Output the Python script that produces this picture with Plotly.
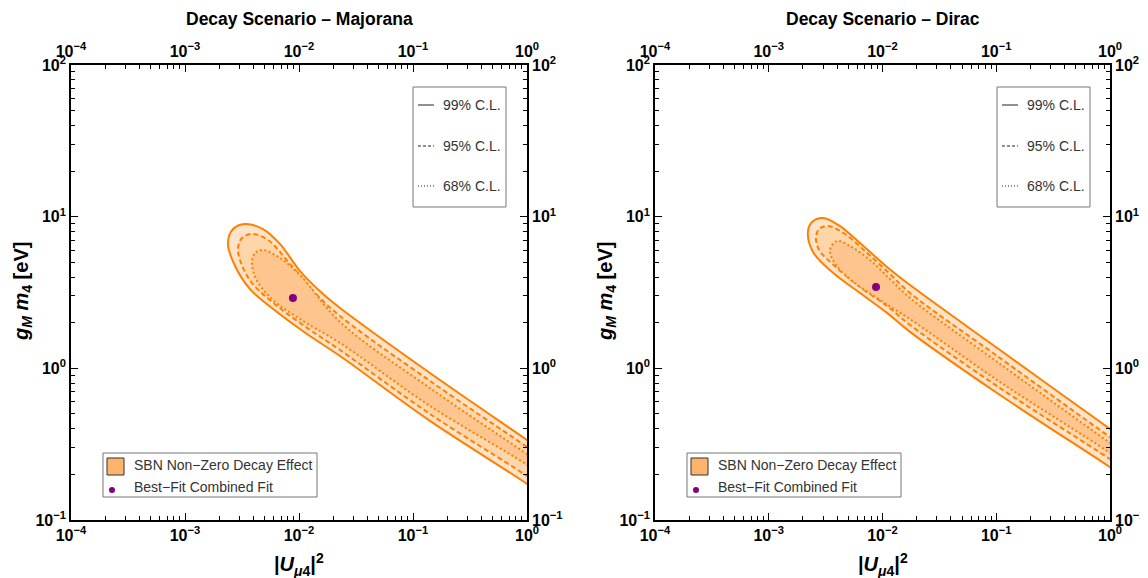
import plotly.graph_objects as go

# The page body has an 8px margin, so the figure is drawn 8px in from the window corner.
WIN_W, WIN_H, BODY = 1148, 578, 8
W, H = WIN_W - BODY, WIN_H - BODY

# ---------------- data ----------------
# Majorana panel, closed contours (|U_mu4|^2, g_M m_4 [eV]); path runs lower edge -> tip -> upper edge
maj99_x = [2.0, 1.0, 0.1409, 0.02291, 0.01175, 0.00641, 0.00372, 0.00275, 0.00238, 0.00264,
           0.00336, 0.00483, 0.00681, 0.01021, 0.01626, 0.02291, 0.1409, 1.0, 2.0]
maj99_y = [0.119, 0.173, 0.450, 1.205, 1.683, 2.35, 3.33, 4.73, 6.61, 8.29,
           8.95, 8.29, 6.61, 4.38, 3.09, 2.50, 0.931, 0.337, 0.235]

maj95_x = [2.0, 1.0, 0.1409, 0.02291, 0.01175, 0.00641, 0.00387, 0.00310, 0.00292, 0.00316,
           0.00387, 0.00535, 0.00834, 0.01439, 0.02291, 0.1409, 1.0, 2.0]
maj95_y = [0.135, 0.195, 0.500, 1.32, 1.85, 2.58, 3.65, 4.95, 6.21, 7.23,
           7.69, 7.02, 4.88, 3.05, 2.21, 0.826, 0.303, 0.211]

maj68_x = [2.0, 1.0, 0.1409, 0.02291, 0.01021, 0.00579, 0.00420, 0.00387, 0.00411, 0.00483,
           0.00681, 0.01021, 0.02291, 0.1409, 1.0, 2.0]
maj68_y = [0.160, 0.231, 0.565, 1.47, 2.11, 2.86, 3.88, 4.95, 5.76, 6.03,
           5.34, 4.12, 2.02, 0.741, 0.272, 0.190]

# Dirac panel
dir99_x = [2.0, 1.0, 0.1079, 0.01746, 0.01096, 0.00634, 0.00367, 0.00245, 0.00221, 0.00240,
           0.00300, 0.00423, 0.00634, 0.01096, 0.01746, 0.1079, 1.0, 2.0]
dir99_y = [0.157, 0.223, 0.667, 1.74, 2.32, 3.14, 4.26, 5.85, 7.92, 9.22,
           9.80, 8.67, 6.70, 4.66, 3.54, 1.32, 0.398, 0.274]

dir95_x = [2.0, 1.0, 0.1079, 0.01746, 0.01096, 0.00634, 0.00390, 0.00277, 0.00260, 0.00277,
           0.00332, 0.00468, 0.00716, 0.01164, 0.01746, 0.1079, 1.0, 2.0]
dir95_y = [0.177, 0.252, 0.741, 1.93, 2.58, 3.44, 4.66, 6.03, 7.34, 8.29,
           8.67, 7.69, 5.85, 4.19, 3.14, 1.17, 0.352, 0.244]

dir68_x = [2.0, 1.0, 0.1079, 0.01746, 0.00951, 0.00573, 0.00390, 0.00345, 0.00398, 0.00518,
           0.00776, 0.01164, 0.01746, 0.1079, 1.0, 2.0]
dir68_y = [0.193, 0.277, 0.813, 2.11, 2.82, 3.65, 4.80, 6.03, 6.91, 6.41,
           5.18, 3.88, 2.91, 1.07, 0.322, 0.223]

best_maj_x, best_maj_y = [0.00885], [2.91]
best_dir_x, best_dir_y = [0.00877], [3.44]

titles = ["Decay Scenario – Majorana", "Decay Scenario – Dirac"]
x_tick_vals = [1e-4, 1e-3, 1e-2, 1e-1, 1]
x_tick_text = ["10<sup>−4</sup>", "10<sup>−3</sup>", "10<sup>−2</sup>", "10<sup>−1</sup>", "10<sup>0</sup>"]
y_tick_vals = [0.1, 1, 10, 100]
y_tick_text = ["10<sup>−1</sup>", "10<sup>0</sup>", "10<sup>1</sup>", "10<sup>2</sup>"]
cl_labels = ["99% C.L.", "95% C.L.", "68% C.L."]
legend_labels = ["SBN Non−Zero Decay Effect", "Best−Fit Combined Fit"]

x_minor = [k * 10.0 ** d for d in range(-4, 0) for k in range(2, 10)]
y_minor = [k * 10.0 ** d for d in range(-1, 2) for k in range(2, 10)]

# ---------------- styling ----------------
ORANGE = "rgb(255,128,0)"
FILL99, FILL95, FILL68 = "#FFE3C8", "#FFD5AA", "#FFC58E"
PURPLE = "#800080"
FONT = "Liberation Sans"
TOP, BOT = 65, 520   # window pixel rows of the frame

panels = [
    dict(x0=71, x1=527, xa="x", ya="y", xa2="x2", ya2="y2",
         c=[(maj99_x, maj99_y), (maj95_x, maj95_y), (maj68_x, maj68_y)],
         b=(best_maj_x, best_maj_y)),
    dict(x0=655, x1=1110, xa="x3", ya="y3", xa2="x4", ya2="y4",
         c=[(dir99_x, dir99_y), (dir95_x, dir95_y), (dir68_x, dir68_y)],
         b=(best_dir_x, best_dir_y)),
]

def px(x):
    return (x - BODY) / W

def py(y):
    return 1 - (y - BODY) / H

fig = go.Figure()
shapes, annots = [], []

axis_common = dict(type="log", showline=True, linecolor="black", linewidth=1.6, automargin=False,
                   ticks="inside", ticklen=7, tickwidth=1, tickcolor="black",
                   showgrid=False, zeroline=False, tickmode="array",
                   tickfont=dict(family=FONT, size=16, color="black", weight="bold"))

layout_axes = {}
styles = [("solid", FILL99), ("5px,3px", FILL95), ("2px,2.5px", FILL68)]
for i, p in enumerate(panels):
    xd = [px(p["x0"]), px(p["x1"])]
    yd = [py(BOT), py(TOP)]
    for (cx, cy), (dash, fc) in zip(p["c"], styles):
        fig.add_trace(go.Scatter(x=cx, y=cy, mode="lines", fill="toself", fillcolor=fc,
                                 line=dict(color=ORANGE, width=2, dash=dash, shape="spline", smoothing=1),
                                 xaxis=p["xa"], yaxis=p["ya"], hoverinfo="skip", showlegend=False))
    fig.add_trace(go.Scatter(x=p["b"][0], y=p["b"][1], mode="markers",
                             marker=dict(color=PURPLE, size=8),
                             xaxis=p["xa"], yaxis=p["ya"], hoverinfo="skip", showlegend=False))
    fig.add_trace(go.Scatter(x=[], y=[], xaxis=p["xa2"], yaxis=p["ya2"], showlegend=False))

    xk = lambda a: "xaxis" + a[1:] if a != "x" else "xaxis"
    yk = lambda a: "yaxis" + a[1:] if a != "y" else "yaxis"
    minor_x = dict(ticks="inside", ticklen=4, tickcolor="black", tickwidth=1, tickmode="array", tickvals=x_minor)
    minor_y = dict(ticks="inside", ticklen=4, tickcolor="black", tickwidth=1, tickmode="array", tickvals=y_minor)
    layout_axes[xk(p["xa"])] = dict(axis_common, domain=xd, range=[-4, 0], anchor=p["ya"],
                                    tickvals=x_tick_vals, ticktext=x_tick_text, minor=minor_x)
    layout_axes[xk(p["xa2"])] = dict(axis_common, range=[-4, 0], overlaying=p["xa"], side="top",
                                     anchor=p["ya"], tickvals=x_tick_vals, ticktext=x_tick_text, minor=minor_x)
    layout_axes[yk(p["ya"])] = dict(axis_common, domain=yd, range=[-1, 2], anchor=p["xa"],
                                    tickvals=y_tick_vals, ticktext=y_tick_text, minor=minor_y)
    layout_axes[yk(p["ya2"])] = dict(axis_common, range=[-1, 2], overlaying=p["ya"], side="right",
                                     anchor=p["xa"], tickvals=y_tick_vals, ticktext=y_tick_text, minor=minor_y)

    off = p["x0"] - 71
    cx_mid = (p["x0"] + p["x1"]) / 2
    # title
    annots.append(dict(x=px(cx_mid), y=py(19), xref="paper", yref="paper", showarrow=False,
                       text="<b>" + titles[i] + "</b>", font=dict(family=FONT, size=17.5, color="black"),
                       xanchor="center", yanchor="middle"))
    # axis titles
    annots.append(dict(x=px(cx_mid), y=py(564), xref="paper", yref="paper", showarrow=False,
                       text="<b>|<i>U</i><sub><i>μ</i>4</sub>|<sup>2</sup></b>",
                       font=dict(family=FONT, size=20, color="black"), xanchor="center", yanchor="middle"))
    annots.append(dict(x=px(22 + off), y=py(292), xref="paper", yref="paper", showarrow=False,
                       text="<b><i>g</i><sub><i>M</i></sub> <i>m</i><sub>4</sub> [eV]</b>", textangle=-90,
                       font=dict(family=FONT, size=20, color="black"), xanchor="center", yanchor="middle"))
    # top-right C.L. legend
    shapes.append(dict(type="rect", xref="paper", yref="paper", x0=px(413 + off), x1=px(506 + off),
                       y0=py(87), y1=py(207), line=dict(color="#777", width=1), fillcolor="white"))
    for yy, lab, dash in zip([105, 146, 186], cl_labels, ["solid", "3px,2px", "1px,2px"]):
        shapes.append(dict(type="line", xref="paper", yref="paper", x0=px(418 + off), x1=px(434 + off),
                           y0=py(yy), y1=py(yy), line=dict(color="#222", width=1, dash=dash)))
        annots.append(dict(x=px(441 + off), y=py(yy), xref="paper", yref="paper", showarrow=False,
                           text=lab, font=dict(family=FONT, size=14, color="#333"),
                           xanchor="left", yanchor="middle"))
    # bottom-left legend
    shapes.append(dict(type="rect", xref="paper", yref="paper", x0=px(103 + off), x1=px(317 + off),
                       y0=py(453), y1=py(497), line=dict(color="#777", width=1), fillcolor="white"))
    shapes.append(dict(type="rect", xref="paper", yref="paper", x0=px(107 + off), x1=px(124 + off),
                       y0=py(458), y1=py(475), line=dict(color="#333", width=1), fillcolor="#FCB46E"))
    shapes.append(dict(type="circle", xref="paper", yref="paper", x0=px(109 + off), x1=px(115 + off),
                       y0=py(487), y1=py(493), line=dict(color=PURPLE, width=0), fillcolor=PURPLE))
    for yy, lab in zip([465, 487], legend_labels):
        annots.append(dict(x=px(132 + off), y=py(yy), xref="paper", yref="paper", showarrow=False,
                           text=lab, font=dict(family=FONT, size=14, color="#333"),
                           xanchor="left", yanchor="middle"))

fig.update_layout(width=W, height=H, margin=dict(l=0, r=0, t=0, b=0),
                  paper_bgcolor="white", plot_bgcolor="white", showlegend=False,
                  shapes=shapes, annotations=annots, **layout_axes)
fig.write_html("out.html")
